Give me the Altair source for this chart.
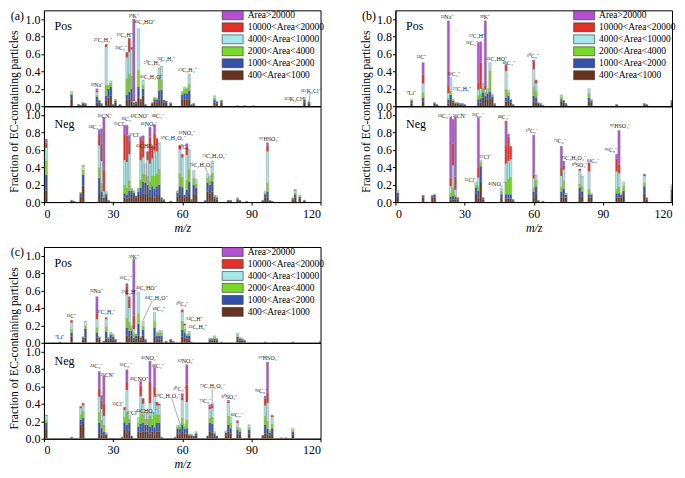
import altair as alt
import pandas as pd

FONT = "Liberation Serif"
CATS = ["400<Area<1000", "1000<Area<2000", "2000<Area<4000",
        "4000<Area<10000", "10000<Area<20000", "Area>20000"]
COLORS = ["#66341e", "#3452ad", "#7ad82a", "#a6e8e8", "#e0322a", "#b450d2"]
X_TICKS = [0, 30, 60, 90, 120]
Y_TICKS = [0.0, 0.2, 0.4, 0.6, 0.8, 1.0]

# rows: (m/z, 400-1000, 1000-2000, 2000-4000, 4000-10000, 10000-20000, >20000)
A_POS = [
    (12, .08, .05, .02, .02, 0, 0), (15, .015, .005, 0, 0, 0, 0), (16, .01, 0, 0, 0, 0, 0),
    (17, .03, .01, 0, 0, 0, 0), (18, .02, .01, 0, 0, 0, 0), (23, .04, .07, .02, .03, .02, .02),
    (24, .04, .02, .01, 0, 0, 0), (25, .02, .01, 0, 0, 0, 0), (27, .06, .06, .13, .43, .03, 0),
    (28, .10, .10, .04, 0, 0, 0), (29, .12, .10, .05, .02, 0, 0), (30, .02, 0, 0, 0, 0, 0),
    (31, .04, .02, .02, 0, 0, 0), (33, .015, .005, 0, 0, 0, 0), (36, .06, .07, .19, .24, .05, .01),
    (37, .07, .10, .20, .25, .16, 0), (38, .05, .15, .15, .30, .02, .01), (39, .02, .02, .01, .01, .02, .92),
    (40, .03, .02, 0, 0, 0, 0), (41, .10, .12, .20, .47, 0, 0), (42, .05, .03, 0, 0, 0, 0),
    (43, .12, .08, .05, .05, 0, 0), (44, .015, .005, 0, 0, 0, 0), (47, .03, .01, 0, 0, 0, 0),
    (48, .05, .03, .02, 0, 0, 0), (49, .04, .03, .02, 0, 0, 0), (50, .08, .10, .14, .12, 0, 0),
    (51, .07, .12, .12, .15, 0, 0), (52, .04, .03, 0, 0, 0, 0), (53, .04, .02, 0, 0, 0, 0),
    (55, .03, .01, 0, 0, 0, 0), (60, .08, .05, .03, .01, 0, 0), (61, .08, .07, .05, .02, 0, 0),
    (62, .08, .07, .05, .01, 0, 0), (63, .08, .10, .08, .11, 0, 0), (64, .015, .005, 0, 0, 0, 0),
    (65, .02, .01, 0, 0, 0, 0), (74, .04, .03, .03, .02, 0, 0), (75, .03, .02, .01, 0, 0, 0),
    (77, .04, .02, .01, 0, 0, 0), (84, .005, 0, 0, 0, 0, 0), (87, .005, 0, 0, 0, 0, 0),
    (91, .005, 0, 0, 0, 0, 0), (113, .04, .03, .02, .01, 0, 0), (115, .03, .02, 0, 0, 0, 0),
]
A_NEG = [
    (1, .13, .18, .17, .14, .06, .04), (12, .015, .005, 0, 0, 0, 0), (13, .01, 0, 0, 0, 0, 0),
    (16, .06, .04, .01, 0, 0, 0), (17, .19, .12, .06, .04, .01, 0), (24, .08, .20, .12, .25, .12, .06),
    (25, .05, .07, .10, .25, .20, .17), (26, .02, .03, .03, .04, .25, .60), (27, .06, .03, .02, .01, 0, 0),
    (28, .015, .005, 0, 0, 0, 0), (35, .05, .05, .10, .28, .29, .11), (36, .04, .04, .08, .30, .30, .12),
    (37, .05, .08, .12, .30, .16, .05), (38, .08, .05, .02, .01, 0, 0), (39, .07, .04, .02, 0, 0, 0),
    (40, .05, .02, 0, 0, 0, 0), (41, .08, .04, .03, .01, 0, 0), (42, .08, .08, .10, .22, .25, .02),
    (43, .10, .13, .10, .18, .20, .05), (44, .10, .12, .10, .12, 0, 0), (45, .08, .12, .10, .18, .10, 0),
    (46, .06, .08, .10, .20, .30, .12), (47, .08, .10, .12, .20, .14, 0), (48, .05, .10, .15, .29, .20, .10),
    (49, .08, .10, .15, .25, .15, 0), (50, .08, .12, .18, .30, 0, 0), (51, .03, .02, 0, 0, 0, 0),
    (52, .02, .01, 0, 0, 0, 0), (55, .01, 0, 0, 0, 0, 0), (58, .06, .05, .02, 0, 0, 0),
    (59, .08, .10, .15, .27, .05, 0), (60, .07, .10, .12, .22, .04, 0), (61, .05, .03, 0, 0, 0, 0),
    (62, .06, .08, .12, .28, .10, .03), (63, .08, .15, .15, .22, 0, 0), (64, .02, .01, 0, 0, 0, 0),
    (65, .10, .10, .08, .08, 0, 0), (66, .08, .08, .05, .05, 0, 0), (70, .015, .005, 0, 0, 0, 0),
    (71, .12, .10, .06, .05, 0, 0), (72, .10, .10, .05, .05, 0, 0), (73, .12, .12, .10, .13, 0, 0),
    (74, .04, .02, .01, .01, 0, 0), (75, .03, .02, .01, .01, 0, 0), (80, .02, 0, 0, 0, 0, 0),
    (81, .015, .005, 0, 0, 0, 0), (84, .03, .01, .005, .005, 0, 0), (85, .015, .005, 0, 0, 0, 0),
    (88, .01, 0, 0, 0, 0, 0), (95, .015, .005, 0, 0, 0, 0), (96, .05, .04, .02, .01, 0, 0),
    (97, .05, .07, .10, .36, .07, .03), (98, .015, .005, 0, 0, 0, 0), (99, .01, 0, 0, 0, 0, 0),
    (108, .03, .01, .01, 0, 0, 0), (109, .05, .04, .02, .02, .01, 0), (111, .04, .02, .01, .01, 0, 0),
    (113, .015, .005, 0, 0, 0, 0),
]
B_POS = [
    (7, .03, .03, .01, .01, 0, 0), (12, .05, .05, .06, .10, .10, .14), (17, .03, .01, 0, 0, 0, 0),
    (18, .015, .005, 0, 0, 0, 0), (23, .03, .04, .03, .05, .09, .74), (24, .08, .05, .05, .15, 0, 0),
    (25, .04, .02, .01, .01, 0, 0), (26, .03, .01, 0, 0, 0, 0), (27, .03, .01, 0, 0, 0, 0),
    (28, .02, .01, 0, 0, 0, 0), (29, .02, .01, 0, 0, 0, 0), (30, .015, .005, 0, 0, 0, 0),
    (36, .04, .04, .05, .06, .08, .46), (37, .04, .05, .06, .05, .30, .24), (38, .10, .06, .05, .05, 0, 0),
    (39, .07, .05, .04, .03, .05, .74), (40, .08, .06, .03, .03, 0, 0), (41, .09, .08, .24, .09, 0, 0),
    (42, .07, .04, .02, .01, 0, 0), (43, .02, .01, 0, 0, 0, 0), (48, .05, .05, .10, .20, .06, .02),
    (49, .06, .06, .04, .02, 0, 0), (50, .04, .03, .01, 0, 0, 0), (51, .015, .005, 0, 0, 0, 0),
    (60, .05, .07, .10, .20, .10, .01), (61, .04, .06, .08, .08, .04, 0), (62, .03, .01, 0, 0, 0, 0),
    (63, .02, .01, 0, 0, 0, 0), (64, .01, 0, 0, 0, 0, 0), (72, .05, .03, .03, .02, 0, 0),
    (73, .04, .02, .01, 0, 0, 0), (74, .02, .01, 0, 0, 0, 0), (84, .05, .05, .05, .05, 0, 0),
    (85, .04, .02, .01, .01, 0, 0), (96, .015, .005, 0, 0, 0, 0), (108, .02, .01, 0, 0, 0, 0),
    (109, .015, .005, 0, 0, 0, 0), (120, .04, .02, .01, 0, 0, 0),
]
B_NEG = [
    (1, .06, .05, 0, .02, 0, 0), (12, .05, .02, .01, 0, 0, 0), (16, .05, .02, .01, 0, 0, 0),
    (17, .05, .03, .01, 0, 0, 0), (24, .03, .03, .05, .07, .10, .70), (25, .03, .04, .10, .25, .25, .28),
    (26, .03, .03, .03, .05, .15, .69), (27, .03, .02, 0, 0, 0, 0), (35, .10, .06, .04, .03, 0, 0),
    (36, .05, .08, .05, .10, .12, .57), (37, .22, .19, .05, .02, 0, 0), (38, .03, .02, 0, 0, 0, 0),
    (46, .05, .04, .04, .03, 0, 0), (48, .04, .05, .15, .20, .22, .27), (49, .04, .05, .18, .20, .28, .03),
    (50, .04, .05, .20, .20, .15, 0), (51, .02, .01, 0, 0, 0, 0), (60, .05, .07, .05, .10, .05, .45),
    (61, .08, .10, .08, .05, 0, 0), (62, .015, .005, 0, 0, 0, 0), (64, .01, 0, 0, 0, 0, 0),
    (72, .05, .07, .06, .12, .10, .24), (73, .05, .10, .10, .12, .05, .05), (74, .05, .03, .01, .01, 0, 0),
    (80, .08, .08, .05, .15, .02, 0), (81, .06, .06, .06, .12, 0, 0), (84, .05, .04, .06, .20, .10, 0),
    (85, .05, .03, .01, .01, 0, 0), (96, .05, .05, .05, .20, .15, .05), (97, .05, .05, .08, .15, .10, .39),
    (98, .05, .03, .01, .01, 0, 0), (99, .07, .06, .06, .04, 0, 0), (108, .10, .08, .04, .08, .02, 0),
    (109, .03, .02, 0, 0, 0, 0), (120, .08, .06, .04, .02, 0, 0),
]
C_POS = [
    (7, .01, 0, 0, 0, 0, 0), (12, .07, .05, .04, .07, .03, 0), (17, .04, .02, .01, 0, 0, 0),
    (18, .06, .10, .04, .05, 0, 0), (23, .06, .06, .06, .09, .06, .20), (24, .04, .02, .01, 0, 0, 0),
    (26, .015, .005, 0, 0, 0, 0), (27, .05, .08, .06, .08, .02, 0), (28, .03, .02, .01, 0, 0, 0),
    (29, .05, .04, .02, .01, 0, 0), (30, .04, .03, .02, .01, 0, 0), (31, .03, .01, 0, 0, 0, 0),
    (36, .08, .09, .12, .26, .10, .03), (37, .06, .08, .10, .16, .10, .03), (38, .08, .06, .04, .02, 0, 0),
    (39, .02, .04, .05, .05, .15, .65), (40, .05, .03, .02, 0, 0, 0), (41, .08, .14, .12, .24, 0, 0),
    (42, .04, .02, .01, 0, 0, 0), (43, .08, .07, .05, .05, 0, 0), (44, .03, .01, 0, 0, 0, 0),
    (48, .07, .10, .08, .10, 0, 0), (49, .04, .04, .03, .01, 0, 0), (50, .04, .04, .04, .02, 0, 0),
    (51, .04, .04, .04, .02, 0, 0), (53, .015, .005, 0, 0, 0, 0), (55, .03, .01, 0, 0, 0, 0),
    (56, .015, .005, 0, 0, 0, 0), (60, .07, .08, .10, .10, .03, 0), (61, .06, .06, .04, .04, .02, 0),
    (62, .05, .03, .02, 0, 0, 0), (63, .04, .04, .03, .02, 0, 0), (64, .01, 0, 0, 0, 0, 0),
    (72, .03, .01, .01, 0, 0, 0), (73, .03, .01, .01, 0, 0, 0), (74, .03, .02, .02, .01, 0, 0),
    (75, .03, .01, .01, 0, 0, 0), (77, .01, 0, 0, 0, 0, 0), (84, .04, .03, .02, .02, 0, 0),
    (85, .03, .02, .01, 0, 0, 0), (86, .03, .01, .01, 0, 0, 0), (87, .02, .01, 0, 0, 0, 0),
    (96, .01, 0, 0, 0, 0, 0), (100, .005, 0, 0, 0, 0, 0), (108, .01, 0, 0, 0, 0, 0),
    (120, .015, .005, 0, 0, 0, 0),
]
C_NEG = [
    (1, .10, .08, .04, .04, .01, 0), (12, .015, .005, 0, 0, 0, 0), (16, .16, .06, .06, .07, .02, 0),
    (17, .18, .06, .08, .06, .02, .01), (24, .06, .12, .13, .17, .10, .19), (25, .04, .08, .10, .12, .10, .06),
    (26, .03, .05, .08, .10, .14, .32), (27, .03, .02, .01, .01, 0, 0), (34, .015, .005, 0, 0, 0, 0),
    (35, .10, .09, .06, .08, .03, 0), (36, .06, .10, .15, .25, .08, .15), (37, .09, .09, .05, .04, 0, 0),
    (38, .02, .01, 0, 0, 0, 0), (41, .08, .06, .05, .05, 0, 0), (42, .07, .10, .12, .20, .12, .05),
    (43, .08, .10, .10, .12, .06, 0), (44, .08, .08, .07, .07, 0, 0), (45, .08, .08, .07, .07, 0, 0),
    (46, .06, .08, .12, .15, .25, .23), (47, .08, .08, .07, .07, 0, 0), (48, .05, .08, .15, .20, .12, .22),
    (49, .08, .10, .10, .10, .04, 0), (50, .08, .10, .10, .10, .02, 0), (51, .015, .005, 0, 0, 0, 0),
    (57, .015, .005, 0, 0, 0, 0), (58, .06, .05, .03, .01, 0, 0), (59, .06, .05, .03, .02, 0, 0),
    (60, .08, .08, .08, .20, .03, .05), (61, .06, .05, .04, .02, 0, 0), (62, .06, .06, .10, .20, .20, .23),
    (63, .03, .01, .01, 0, 0, 0), (64, .03, .01, .01, 0, 0, 0), (65, .02, .01, 0, 0, 0, 0),
    (66, .04, .02, .01, .01, 0, 0), (71, .02, .01, 0, 0, 0, 0), (72, .08, .10, .06, .10, .03, .02),
    (73, .07, .10, .08, .10, .03, .02), (74, .04, .02, .01, .01, 0, 0), (75, .02, .01, 0, 0, 0, 0),
    (79, .04, .03, .01, .01, 0, 0), (80, .08, .08, .10, .15, .02, .01), (81, .06, .06, .06, .07, 0, 0),
    (84, .06, .04, .04, .04, .02, .01), (85, .05, .03, .02, .02, 0, 0), (89, .06, .04, .03, .03, 0, 0),
    (95, .03, .01, 0, 0, 0, 0), (96, .06, .10, .10, .12, .08, .03), (97, .05, .06, .10, .20, .12, .35),
    (98, .04, .03, .02, .01, 0, 0), (99, .05, .07, .05, .08, .02, 0), (103, .01, 0, 0, 0, 0, 0),
    (105, .01, 0, 0, 0, 0, 0), (108, .05, .03, .02, .02, 0, 0),
]

# peak labels: (text, m/z, fraction)
A_POS_LAB = [("²³Na⁺", 23, .24), ("²⁷C₂H₃⁺", 25.6, .76), ("³⁶C₃⁺", 33.5, .67), ("³⁷C₃H⁺", 35, .82),
             ("³⁹K⁺", 39, 1.04), ("⁴¹C₂HO⁺", 43.6, .97), ("⁴³C₂H₃O⁺", 46.5, .33), ("⁵⁰C₄H₂⁺", 47.2, .49),
             ("⁵¹C₄H₃⁺", 53, .54), ("⁶³C₅H₃⁺", 62.3, .41), ("¹¹³K₂Cl⁺", 108.5, .08), ("¹¹⁵K₂Cl⁺", 115.8, .18)]
A_NEG_LAB = [("²⁴C₂⁻", 22, .86), ("²⁶CN⁻", 26.3, .99), ("³⁵Cl⁻", 32.8, .89), ("³⁶C₃⁻", 36.1, .95),
             ("³⁷Cl⁻", 39.3, .77), ("⁴²CNO⁻", 41.5, .99), ("⁴⁵CHO₂⁻", 44.4, .64), ("⁴⁶NO₂⁻", 45.6, .89),
             ("⁴⁸C₄⁻", 49.4, .99), ("⁵⁹C₂H₃O₂⁻", 56, .73), ("⁶⁰C₅⁻", 61, .63), ("⁶²NO₃⁻", 62, .79),
             ("⁷¹C₃H₃O₂⁻", 68.5, .42), ("⁷³C₃H₅O₂⁻", 74, .53), ("⁹⁷HSO₄⁻", 97.8, .72)]
B_POS_LAB = [("⁷Li⁺", 6.8, .15), ("¹²C⁺", 11.3, .57), ("²³Na⁺", 22.4, 1.02), ("²⁴C₂⁺", 25.3, .37),
             ("²⁷C₂H₃⁺", 28.9, .2), ("³⁶C₃⁺", 33.2, .73), ("³⁷C₃H⁺", 35.4, .8), ("³⁹K⁺", 38.9, 1.02),
             ("⁴¹C₂HO⁺", 44, .54), ("⁴⁸C₄⁺", 49.1, .5), ("⁶⁰C₅⁺", 59.7, .58)]
B_NEG_LAB = [("²⁴C₂⁻", 21, .99), ("²⁶CN⁻", 27.9, .99), ("³⁵Cl⁻", 32.5, .25), ("³⁶C₃⁻", 35.7, 1.0),
             ("³⁷Cl⁻", 39, .52), ("⁴⁶NO₂⁻", 43.8, .21), ("⁴⁸C₄⁻", 47, .98), ("⁶⁰C₅⁻", 59.2, .81),
             ("⁷²C₆⁻", 71.2, .7), ("⁷³C₃H₅O₂⁻", 77.3, .51), ("⁸⁰SO₃⁻", 79.9, .42), ("⁸⁴C₇⁻", 85.7, .47),
             ("⁹⁶C₈⁻", 93.5, .6), ("⁹⁷HSO₄⁻", 97.5, .87)]
C_POS_LAB = [("⁷Li⁺", 6.8, .07), ("¹²C⁺", 11.9, .31), ("²³Na⁺", 22.7, .59), ("²⁷C₂H₃⁺", 27, .35),
             ("³⁶C₃⁺", 35.4, .74), ("³⁷C₃H⁺", 37, .58), ("³⁹K⁺", 39, .99), ("⁴¹C₂HO⁺", 44.4, .63),
             ("⁴³C₂H₃O⁺", 48.7, .51), ("⁴⁸C₄⁺", 49.8, .39), ("⁶⁰C₅⁺", 60, .45), ("⁶¹C₅H⁺", 65.3, .27),
             ("⁶³C₅H₃⁺", 66.7, .18)]
C_NEG_LAB = [("²⁴C₂⁻", 22.7, .83), ("²⁶CN⁻", 27.7, .73), ("³⁵Cl⁻", 32.1, .4), ("³⁶C₃⁻", 35.4, .84),
             ("³⁷Cl⁻", 38.6, .29), ("⁴²CNO⁻", 41.2, .69), ("⁴⁵CHO₂⁻", 44.4, .32), ("⁴⁶NO₂⁻", 45.8, .93),
             ("⁴⁸C₄⁻", 49.4, .83), ("⁵⁹C₂H₃O₂⁻", 53.7, .49), ("⁶⁰C₅⁻", 58.8, .57), ("⁶²NO₃⁻", 61.7, .89),
             ("⁷²C₆⁻", 70, .43), ("⁷³C₃H₅O₂⁻", 73, .61), ("⁸⁰SO₃⁻", 80.5, .48), ("⁸⁴C₇⁻", 83.6, .27),
             ("⁹⁶C₈⁻", 94.2, .55), ("⁹⁷HSO₄⁻", 97.5, .93)]

# leader lines: (m/z from, fraction from, m/z to, fraction to)
A_POS_LINES = [(111.5, .08, 113, .10), (115.5, .15, 115, .06)]
A_NEG_LINES = [(70, .39, 71, .34)]
B_POS_LINES = []
B_NEG_LINES = []
C_POS_LINES = [(47, .48, 43, .26)]
C_NEG_LINES = [(55.5, .46, 59, .17), (73, .58, 73, .41)]

W, H = 277, 96


def seg_table(rows):
    recs = []
    for r in rows:
        base = 0.0
        for i, v in enumerate(r[1:]):
            if v > 0:
                recs.append({"lo": r[0] - 0.5, "hi": r[0] + 0.5, "cat": CATS[i],
                             "y0": base, "y1": base + v})
            base += v
    return pd.DataFrame(recs)


def tot_table(rows):
    return pd.DataFrame({"lo": [r[0] - 0.5 for r in rows], "hi": [r[0] + 0.5 for r in rows],
                         "y0": [0.0] * len(rows), "y1": [sum(r[1:]) for r in rows]})


def panel(rows, labels, lines, name, pos, tag=None):
    xs = alt.Scale(domain=[0, 120], nice=False, zero=False)
    ys = alt.Scale(domain=[0, 1.1], nice=False)
    if pos:
        xax = alt.Axis(labels=False, ticks=False, title=None)
        yax = alt.Axis(values=Y_TICKS, format=".1f", title="Fraction of EC-containing particles",
                       titleX=-29, titleY=H + 5, titleAngle=270, titleAlign="center",
                       titleBaseline="middle", titleFontSize=11.5)
        legend = alt.Legend(orient="none", legendX=184, legendY=0, title=None,
                            symbolType="M-2.35,-1H2.35V1H-2.35Z", symbolSize=80,
                            symbolStrokeColor="#333333", symbolStrokeWidth=0.6, symbolOpacity=1,
                            labelFont=FONT, labelFontSize=9.5, labelColor="black",
                            rowPadding=0, labelOffset=10, padding=0)
    else:
        xax = alt.Axis(values=X_TICKS, format="d", title="m/z", titleFontStyle="italic",
                       titlePadding=3, labelPadding=3)
        yax = alt.Axis(values=Y_TICKS, format=".1f", title=None)
        legend = None
    X = lambda f: alt.X(f, scale=xs, axis=xax)
    Y = lambda f: alt.Y(f, scale=ys, axis=yax)
    color = alt.Color("cat:N", scale=alt.Scale(domain=CATS[::-1], range=COLORS[::-1]),
                      legend=legend)
    segs = alt.Chart(seg_table(rows)).mark_bar(clip=True, strokeWidth=0).encode(
        x=X("lo:Q"), x2="hi:Q", y=Y("y0:Q"), y2="y1:Q", color=color)
    outline = alt.Chart(tot_table(rows)).mark_bar(
        clip=True, filled=False, stroke="#8c8c8c", strokeWidth=0.45).encode(
        x=X("lo:Q"), x2="hi:Q", y=Y("y0:Q"), y2="y1:Q")
    lab_df = pd.DataFrame(labels, columns=["t", "lo", "y0"])
    texts = alt.Chart(lab_df).mark_text(font=FONT, fontSize=6, color="#222222").encode(
        x=X("lo:Q"), y=Y("y0:Q"), text="t:N")
    name_df = pd.DataFrame({"t": [name], "lo": [4.6], "y0": [0.92 if pos else 0.89]})
    name_txt = alt.Chart(name_df).mark_text(font=FONT, fontSize=12, align="left",
                                            color="black").encode(
        x=X("lo:Q"), y=Y("y0:Q"), text="t:N")
    layers = [segs, outline]
    if lines:
        ln_df = pd.DataFrame(lines, columns=["lo", "y0", "hi", "y1"])
        layers.append(alt.Chart(ln_df).mark_rule(color="#555555", strokeWidth=0.5).encode(
            x=X("lo:Q"), x2="hi:Q", y=Y("y0:Q"), y2="y1:Q"))
    layers += [texts, name_txt]
    if tag:
        tag_df = pd.DataFrame({"t": [tag], "lo": [-11.5], "y0": [1.04]})
        layers.append(alt.Chart(tag_df).mark_text(font=FONT, fontSize=12, color="black",
                                                  baseline="middle").encode(
            x=X("lo:Q"), y=Y("y0:Q"), text="t:N"))
    return alt.layer(*layers).properties(width=W, height=H)


def figure(pos_rows, pos_lab, pos_lines, neg_rows, neg_lab, neg_lines, tag):
    p = panel(pos_rows, pos_lab, pos_lines, "Pos", True, tag)
    n = panel(neg_rows, neg_lab, neg_lines, "Neg", False)
    return alt.vconcat(p, n, spacing=0, bounds="flush").resolve_scale(
        color="independent", x="independent", y="independent").resolve_legend(color="independent")


fa = figure(A_POS, A_POS_LAB, A_POS_LINES, A_NEG, A_NEG_LAB, A_NEG_LINES, "(a)")
fb = figure(B_POS, B_POS_LAB, B_POS_LINES, B_NEG, B_NEG_LAB, B_NEG_LINES, "(b)")
fc = figure(C_POS, C_POS_LAB, C_POS_LINES, C_NEG, C_NEG_LAB, C_NEG_LINES, "(c)")

top = alt.hconcat(fa, fb, spacing=34).resolve_scale(
    color="independent", x="independent", y="independent").resolve_legend(color="independent")
chart = alt.vconcat(top, fc, spacing=11).resolve_scale(
    color="independent", x="independent", y="independent").resolve_legend(color="independent")

chart = chart.properties(padding=0).configure_view(stroke="black", strokeWidth=1).configure_axis(
    labelFont=FONT, titleFont=FONT, labelFontSize=12, titleFontSize=12, labelColor="black",
    titleColor="black", domainColor="black", tickColor="black", tickSize=3, grid=False,
    titleFontWeight="normal", labelPadding=1)

chart.save("out.html", embed_options={"renderer": "svg", "actions": False})
